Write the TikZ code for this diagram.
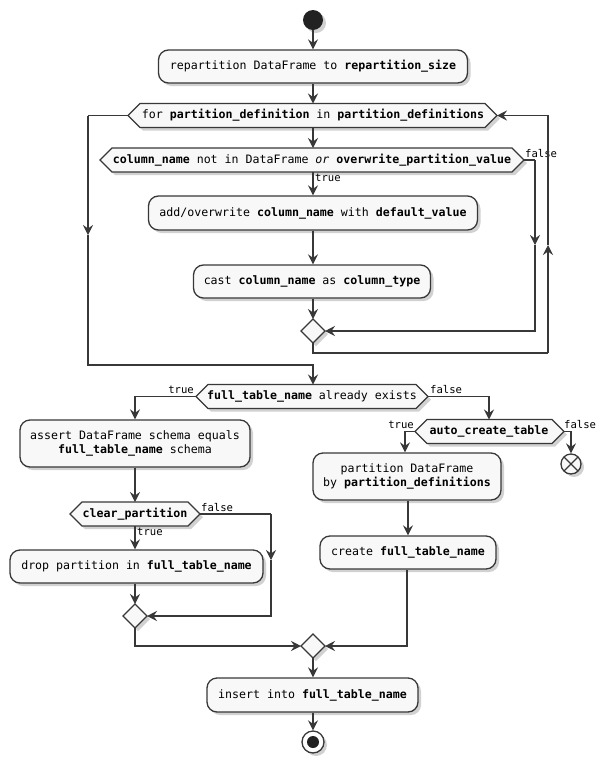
\documentclass[tikz,border=0pt]{standalone}
\usepackage{fontspec}
\setmonofont{DejaVu Sans Mono}
\usetikzlibrary{arrows.meta,shadows}
\definecolor{ln}{HTML}{383838}
\definecolor{bg}{HTML}{F8F8F8}
\tikzset{
 every node/.style={font=\ttfamily\fontsize{11.6}{14}\selectfont, text=black},
 shd/.style={drop shadow={shadow xshift=3pt,shadow yshift=-3pt,fill=black,opacity=0.18}},
 actbox/.style={draw=ln, fill=bg, line width=1.3pt, rounded corners=10pt, inner sep=0pt, shd, align=center},
 hexshape/.style={draw=ln, fill=bg, line width=1.3pt, shd},
 flow/.style={draw=ln, line width=1.3pt},
 arr/.style={flow, -{Stealth[length=10pt,width=10pt,inset=3.5pt]}},
 lbl/.style={font=\ttfamily\fontsize{10.6}{12}\selectfont, inner sep=1pt},
 mergeshape/.style={draw=ln, fill=bg, line width=1.3pt, shd},
}
\newcommand\hexnode[6]{%
 \path[hexshape] (#4,#3) -- (#4+12,#3-12) -- (#5-12,#3-12) -- (#5,#3) -- (#5-12,#3+12) -- (#4+12,#3+12) -- cycle;
 \node[inner sep=0pt] (#1) at (#2,#3) {#6};
 \coordinate (#1L) at (#4,#3); \coordinate (#1R) at (#5,#3);
 \coordinate (#1T) at (#2,#3-12); \coordinate (#1B) at (#2,#3+12);}
\newcommand\mergenode[3]{%
 \path[mergeshape] (#2-12,#3) -- (#2,#3-12) -- (#2+12,#3) -- (#2,#3+12) -- cycle;
 \coordinate (#1) at (#2,#3);
 \coordinate (#1L) at (#2-12,#3); \coordinate (#1R) at (#2+12,#3);
 \coordinate (#1T) at (#2,#3-12); \coordinate (#1B) at (#2,#3+12);}
\begin{document}
\begin{tikzpicture}[x=1pt,y=-1pt]
\useasboundingbox[fill=white] (0,0) rectangle (606,764);
% start
\node[circle, fill={rgb,255:red,34;green,34;blue,34}, minimum size=20pt, inner sep=0pt, shd] (start) at (313,20) {};
\node[actbox, minimum width=309pt, minimum height=33pt] (b1) at (313,66.5) {repartition DataFrame to \textbf{repartition\_size}};
\hexnode{for}{313}{115.5}{128}{497}{for \textbf{partition\_definition} in \textbf{partition\_definitions}}
\hexnode{dA}{312}{160}{100}{524}{\textbf{column\_name} not in DataFrame \textit{or} \textbf{overwrite\_partition\_value}}
\node[actbox, minimum width=329pt, minimum height=34pt] (b2) at (313,213) {add/overwrite \textbf{column\_name} with \textbf{default\_value}};
\node[actbox, minimum width=237pt, minimum height=33pt] (b3) at (312,281.5) {cast \textbf{column\_name} as \textbf{column\_type}};
\mergenode{mA}{313}{331}
% second part
\hexnode{dB}{312}{396.5}{196}{428}{\textbf{full\_table\_name} already exists}
\node[actbox, minimum width=230pt, minimum height=47pt] (b4) at (135,443.5) {assert DataFrame schema equals\\\textbf{full\_table\_name} schema};
\hexnode{dC}{135}{514}{70}{200}{\textbf{clear\_partition}}
\node[actbox, minimum width=253pt, minimum height=33pt] (b5) at (136.5,566.5) {drop partition in \textbf{full\_table\_name}};
\mergenode{mB}{135}{616}
\hexnode{dD}{489}{431.5}{415}{564}{\textbf{auto\_create\_table}}
\node[actbox, minimum width=188pt, minimum height=47pt] (b6) at (407,476.5) {partition DataFrame\\by \textbf{partition\_definitions}};
\node[actbox, minimum width=176pt, minimum height=33pt] (b7) at (408,552.5) {create \textbf{full\_table\_name}};
\node[circle, draw=ln, fill=bg, line width=1.3pt, minimum size=20pt, inner sep=0pt, shd] (stopX) at (571,464) {};
\draw[flow] ([shift={(-7,-7)}]stopX.center) -- ([shift={(7,7)}]stopX.center);
\draw[flow] ([shift={(-7,7)}]stopX.center) -- ([shift={(7,-7)}]stopX.center);
\mergenode{mC}{313}{646}
\node[actbox, minimum width=211pt, minimum height=34pt] (b8) at (312.5,695) {insert into \textbf{full\_table\_name}};
\node[circle, draw=ln, fill=white, line width=1.3pt, minimum size=22pt, inner sep=0pt, shd] (stop) at (313,742) {};
\node[circle, fill={rgb,255:red,34;green,34;blue,34}, minimum size=12pt, inner sep=0pt] (stopin) at (313,742) {};
% connectors
\draw[arr] (start) -- (b1);
\draw[arr] (b1) -- (forT);
\draw[arr] (forB) -- (dAT -| forB);
\draw[arr] (dAB -| b2) -- (b2);
\node[lbl, anchor=west] (tA) at (314,178) {true};
\draw[arr] (b2.south) -- (b2.south |- b3.north);
\draw[arr] (b3.south -| mAT) -- (mAT);
\coordinate (fa1) at (535,160);
\coordinate (fa2) at (535,245);
\coordinate (fa3) at (535,331);
\draw[flow] (dAR) -- (fa1);
\draw[arr] (fa1) -- (fa2);
\draw[arr] (fa2) -- (fa3) -- (mAR);
\node[lbl, anchor=south west] (fA) at (524,159) {false};
\coordinate (lp1) at (313,353);
\coordinate (lp2) at (548,353);
\coordinate (lp3) at (548,245);
\coordinate (lp4) at (548,115.5);
\draw[flow] (mAB) -- (lp1) -- (lp2);
\draw[arr] (lp2) -- (lp3);
\draw[arr] (lp3) -- (lp4) -- (forR);
\coordinate (ex1) at (88,115.5);
\coordinate (ex2) at (88,235);
\coordinate (ex3) at (88,365);
\coordinate (ex4) at (313,365);
\draw[flow] (forL) -- (ex1);
\draw[arr] (ex1) -- (ex2);
\draw[arr] (ex2) -- (ex3) -- (ex4) -- (dBT -| ex4);
% left branch
\coordinate (lb1) at (135,396.5);
\draw[arr] (dBL) -- (lb1) -- (b4);
\node[lbl, anchor=south east] (tB) at (195,395) {true};
\draw[arr] (b4) -- (dCT);
\draw[arr] (dCB) -- (dCB |- b5.north);
\node[lbl, anchor=west] (tC) at (136,532) {true};
\draw[arr] (b5.south -| mBT) -- (mBT);
\coordinate (fc1) at (271,514);
\coordinate (fc2) at (271,560);
\coordinate (fc3) at (271,616);
\draw[flow] (dCR) -- (fc1);
\draw[arr] (fc1) -- (fc2);
\draw[arr] (fc2) -- (fc3) -- (mBR);
\node[lbl, anchor=south west] (fC) at (200,513) {false};
\coordinate (mb1) at (135,646);
\draw[arr] (mBB) -- (mb1) -- (mCL);
% right branch
\coordinate (rb1) at (489,396.5);
\draw[arr] (dBR) -- (rb1) -- (dDT);
\node[lbl, anchor=south west] (fB) at (429,395) {false};
\coordinate (rt1) at (405,431.5);
\draw[arr] (dDL) -- (rt1) -- (rt1 |- b6.north);
\node[lbl, anchor=south east] (tD) at (415,430) {true};
\coordinate (rf1) at (571,431.5);
\draw[arr] (dDR) -- (rf1) -- (stopX);
\node[lbl, anchor=south west] (fD) at (563,430) {false};
\draw[arr] (b6.south -| b7) -- (b7);
\coordinate (rc1) at (407,646);
\draw[arr] (b7.south -| rc1) -- (rc1) -- (mCR);
\draw[arr] (mCB) -- (mCB |- b8.north);
\draw[arr] (b8.south -| stop) -- (stop);
\end{tikzpicture}
\end{document}
